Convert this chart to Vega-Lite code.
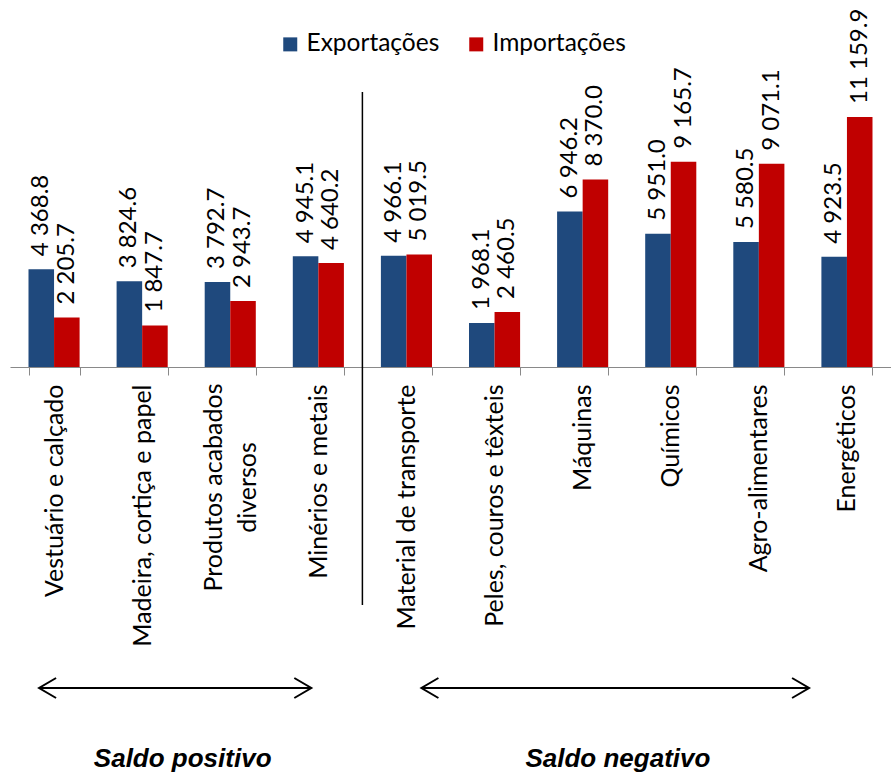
{
  "$schema": "https://vega.github.io/schema/vega-lite/v6.json",
  "autosize": {"type": "none"},
  "padding": {"left": 10, "top": 31, "right": 0, "bottom": 409},
  "width": 881,
  "height": 336,
  "background": "white",
  "config": {
    "view": {"stroke": null},
    "font": "Lato",
    "locale": {"number": {"decimal": ".", "thousands": " ", "grouping": [3], "currency": ["", ""]}}
  },
  "datasets": {
    "comercio": [
      {"categoria": "Vestuário e calçado", "fluxo": "Exportações", "valor": 4368.8},
      {"categoria": "Vestuário e calçado", "fluxo": "Importações", "valor": 2205.7},
      {"categoria": "Madeira, cortiça e papel", "fluxo": "Exportações", "valor": 3824.6},
      {"categoria": "Madeira, cortiça e papel", "fluxo": "Importações", "valor": 1847.7},
      {"categoria": "Produtos acabados diversos", "fluxo": "Exportações", "valor": 3792.7},
      {"categoria": "Produtos acabados diversos", "fluxo": "Importações", "valor": 2943.7},
      {"categoria": "Minérios e metais", "fluxo": "Exportações", "valor": 4945.1},
      {"categoria": "Minérios e metais", "fluxo": "Importações", "valor": 4640.2},
      {"categoria": "Material de transporte", "fluxo": "Exportações", "valor": 4966.1},
      {"categoria": "Material de transporte", "fluxo": "Importações", "valor": 5019.5},
      {"categoria": "Peles, couros e têxteis", "fluxo": "Exportações", "valor": 1968.1},
      {"categoria": "Peles, couros e têxteis", "fluxo": "Importações", "valor": 2460.5},
      {"categoria": "Máquinas", "fluxo": "Exportações", "valor": 6946.2},
      {"categoria": "Máquinas", "fluxo": "Importações", "valor": 8370.0},
      {"categoria": "Químicos", "fluxo": "Exportações", "valor": 5951.0},
      {"categoria": "Químicos", "fluxo": "Importações", "valor": 9165.7},
      {"categoria": "Agro-alimentares", "fluxo": "Exportações", "valor": 5580.5},
      {"categoria": "Agro-alimentares", "fluxo": "Importações", "valor": 9071.1},
      {"categoria": "Energéticos", "fluxo": "Exportações", "valor": 4923.5},
      {"categoria": "Energéticos", "fluxo": "Importações", "valor": 11159.9}
    ],
    "saldos": [
      {"saldo": "Saldo positivo", "inicio": 0.33, "fim": 3.42, "centro": 1.96},
      {"saldo": "Saldo negativo", "inicio": 4.67, "fim": 9.07, "centro": 6.9}
    ],
    "fronteira": [
      {"entre": "Minérios e metais | Material de transporte", "posicao": 4}
    ]
  },
  "layer": [
    {
      "data": {"name": "comercio"},
      "encoding": {
        "x": {
          "field": "categoria",
          "type": "nominal",
          "sort": null,
          "scale": {"paddingInner": 0.42, "paddingOuter": 0.21},
          "axis": {
            "title": null,
            "labelAngle": -90,
            "labelAlign": {"condition": {"test": "datum.value == 'Produtos acabados diversos'", "value": "center"}, "value": "right"},
            "labelBaseline": "middle",
            "labelFont": "Lato",
            "labelFontSize": 25,
            "labelColor": "black",
            "labelLimit": 0,
            "labelPadding": {"condition": {"test": "datum.value == 'Produtos acabados diversos'", "value": 112}, "value": 9},
            "labelLineHeight": 34,
            "labelOffset": {"condition": {"test": "datum.value == 'Produtos acabados diversos'", "value": -17}, "value": 0},
            "labelExpr": "datum.value == 'Produtos acabados diversos' ? ['Produtos acabados', 'diversos'] : datum.label",
            "domainColor": "#898989",
            "tickColor": "#898989",
            "tickSize": 8,
            "tickBand": "extent"
          }
        },
        "xOffset": {"field": "fluxo", "type": "nominal", "sort": ["Exportações", "Importações"]},
        "y": {
          "field": "valor",
          "type": "quantitative",
          "scale": {"domain": [0, 15000], "nice": false},
          "axis": null
        }
      },
      "layer": [
        {
          "mark": {"type": "bar"},
          "encoding": {
            "color": {
              "field": "fluxo",
              "type": "nominal",
              "scale": {"domain": ["Exportações", "Importações"], "range": ["#1F497D", "#C00000"]},
              "legend": {
                "title": null,
                "orient": "none",
                "legendX": 268,
                "legendY": 1,
                "direction": "horizontal",
                "symbolType": "square",
                "symbolSize": 196,
                "symbolStrokeWidth": 0,
                "labelFont": "Lato",
                "labelFontSize": 24.5,
                "labelColor": "black",
                "labelOffset": 4,
                "columnPadding": 24
              }
            }
          }
        },
        {
          "mark": {
            "type": "text",
            "angle": 270,
            "align": "left",
            "baseline": "middle",
            "dx": 13,
            "font": "Lato",
            "fontSize": 24,
            "color": "black"
          },
          "encoding": {
            "text": {"field": "valor", "type": "quantitative", "format": ",.1f"}
          }
        }
      ]
    },
    {
      "layer": [
        {
          "data": {"name": "fronteira"},
          "mark": {"type": "rule", "color": "black", "strokeWidth": 1.5},
          "encoding": {
            "x": {"field": "posicao", "type": "quantitative", "scale": {"domain": [0, 10], "nice": false, "zero": false}, "axis": null},
            "y": {"datum": 12277, "type": "quantitative", "scale": {"domain": [0, 15000], "nice": false}, "axis": null},
            "y2": {"datum": -10625}
          }
        },
        {
          "data": {"name": "saldos"},
          "encoding": {
            "x": {"field": "inicio", "type": "quantitative", "scale": {"domain": [0, 10], "nice": false, "zero": false}, "axis": null},
            "y": {"datum": -14330, "type": "quantitative", "scale": {"domain": [0, 15000], "nice": false}, "axis": null}
          },
          "layer": [
            {
              "mark": {"type": "rule", "color": "black", "strokeWidth": 2},
              "encoding": {"x2": {"field": "fim"}}
            },
            {
              "mark": {"type": "point", "shape": "M1.7,-1L0,0L1.7,1", "size": 400, "filled": false, "stroke": "black", "strokeWidth": 2, "opacity": 1}
            },
            {
              "mark": {"type": "point", "shape": "M-1.7,-1L0,0L-1.7,1", "size": 400, "filled": false, "stroke": "black", "strokeWidth": 2, "opacity": 1},
              "encoding": {"x": {"field": "fim", "type": "quantitative"}}
            },
            {
              "mark": {
                "type": "text",
                "font": "Liberation Sans",
                "fontSize": 26,
                "fontWeight": "bold",
                "fontStyle": "italic",
                "align": "center",
                "baseline": "alphabetic",
                "color": "black"
              },
              "encoding": {
                "x": {"field": "centro", "type": "quantitative"},
                "y": {"datum": -17860, "type": "quantitative"},
                "text": {"field": "saldo"}
              }
            }
          ]
        }
      ]
    }
  ],
  "resolve": {"scale": {"x": "independent"}}
}
